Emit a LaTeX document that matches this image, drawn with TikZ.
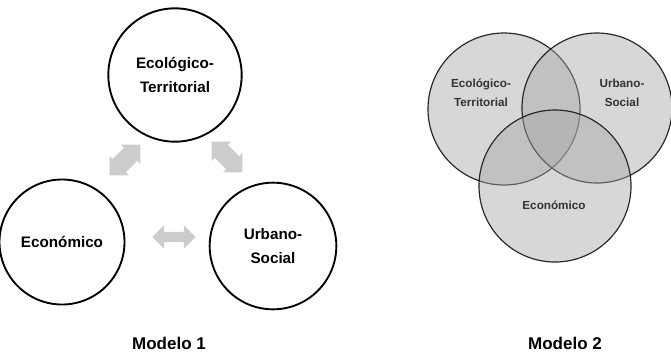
\documentclass[tikz,border=0pt]{standalone}
\usepackage{fontspec}
\setmainfont{Liberation Sans}
\usetikzlibrary{shapes.arrows}

\tikzset{
  circulo/.style={draw, circle, line width=1.6pt, align=center, font=\fontsize{13}{21}\selectfont\bfseries},
  flecha/.style={double arrow, fill=gray!40, draw=none, inner xsep=0pt},
  venn/.style={draw=black!85, line width=1pt, fill=gray!70, fill opacity=0.45},
  etiqueta/.style={align=center, font=\fontsize{10}{16}\selectfont\bfseries, text=black!80},
  titulo/.style={font=\fontsize{14.5}{16}\selectfont\bfseries}
}

\begin{document}
\begin{tikzpicture}[x=0.03cm, y=-0.03cm]
      \useasboundingbox (0,0) rectangle (671,353);

      % Modelo 1 - tres circulos
      \node[circulo, minimum size=4.0cm] (ecoterr) at (175,75) {Ecológico-\\Territorial};
      \node[circulo, minimum size=3.75cm] (econ) at (62,242) {Económico};
      \node[circulo, minimum size=3.8cm] (urb) at (273,246) {Urbano-\\Social};

      % Modelo 1 - flechas
      \node[flecha, rotate=45, minimum height=1.3cm, inner ysep=0.27cm,
            double arrow head extend=0.13cm] (f1) at (125,160) {};
      \node[flecha, rotate=-45, minimum height=1.3cm, inner ysep=0.27cm,
            double arrow head extend=0.13cm] (f2) at (227,157) {};
      \node[flecha, minimum height=1.3cm, inner ysep=0.15cm,
            double arrow head extend=0.2cm] (f3) at (174,237) {};

      \node[titulo] (m1) at (169,343) {Modelo 1};

      % Modelo 2 - circulos de Venn
      \draw[venn] (504,109) circle (2.28cm);
      \draw[venn] (597,108) circle (2.25cm);
      \draw[venn] (555,186) circle (2.28cm);
      \node[etiqueta] (v1) at (481,93) {Ecológico-\\Territorial};
      \node[etiqueta] (v2) at (622,93) {Urbano-\\Social};
      \node[etiqueta] (v3) at (554,205) {Económico};

      \node[titulo] (m2) at (565,343) {Modelo 2};
\end{tikzpicture}
\end{document}
